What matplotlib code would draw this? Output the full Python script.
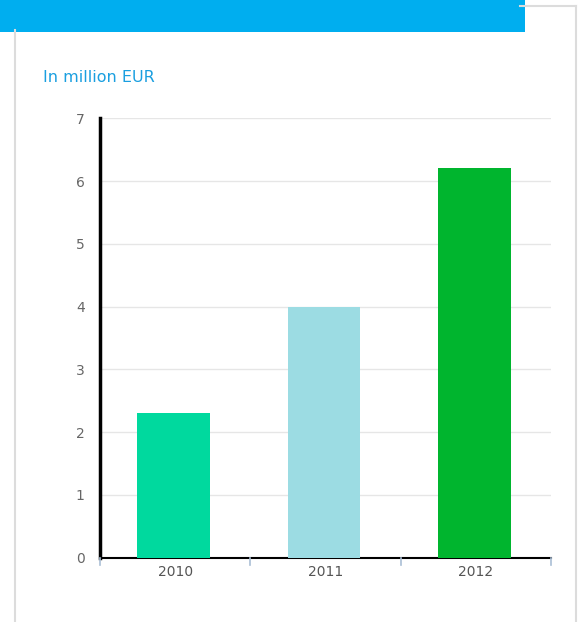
import matplotlib
matplotlib.use("Agg")
import matplotlib.pyplot as plt
from matplotlib.lines import Line2D
from matplotlib.patches import Rectangle

years = ["2010", "2011", "2012"]
values = [2.3, 4.0, 6.2]
bar_colors = ["#00D99E", "#9CDCE3", "#00B52E"]
y_ticks = [0, 1, 2, 3, 4, 5, 6, 7]
unit_label = "In million EUR"

W, H = 578, 622
fig = plt.figure(figsize=(W / 100, H / 100), dpi=100)
fig.patch.set_facecolor("white")

def fx(px):
    return px / W

def fy(py):
    return 1 - py / H

# Outer panel frame
frame_kw = dict(color="#dcdcdc", linewidth=1.5, transform=fig.transFigure)
fig.add_artist(Line2D([fx(14.5), fx(14.5)], [fy(30), fy(622)], **frame_kw))
fig.add_artist(Line2D([fx(576), fx(576)], [fy(6), fy(622)], **frame_kw))
fig.add_artist(Line2D([fx(520), fx(576)], [fy(6), fy(6)], **frame_kw))

# Header banner
fig.add_artist(Rectangle((0, fy(32)), fx(525), 32 / H, transform=fig.transFigure,
                         facecolor="#00AEEF", edgecolor="none"))

fig.text(fx(43), fy(77), unit_label, color="#1A9FE0", fontsize=11.5,
         ha="left", va="center", family="DejaVu Sans")

ax = fig.add_axes([fx(100), fy(557.5), fx(551) - fx(100), fy(118.3) - fy(557.5)])
x = list(range(len(years)))
ax.bar([i - 0.01 for i in x], values, width=0.485, color=bar_colors, zorder=3)

ax.set_xlim(-0.5, len(years) - 0.5)
ax.set_ylim(0, 7)
ax.set_yticks(y_ticks)
ax.set_yticklabels([str(t) for t in y_ticks])
ax.set_xticks(x)
ax.set_xticklabels(years)

ax.grid(axis="y", color="#e6e6e6", linewidth=1, zorder=0)
ax.set_axisbelow(True)

for side in ("top", "right"):
    ax.spines[side].set_visible(False)
ax.spines["left"].set_linewidth(2.5)
ax.spines["left"].set_color("black")
ax.spines["bottom"].set_linewidth(1.5)
ax.spines["bottom"].set_color("black")

ax.tick_params(axis="y", length=0, pad=11, labelsize=10, labelcolor="#666666")
ax.tick_params(axis="x", length=0, pad=5.5, labelsize=10, labelcolor="#555555")

# Category boundary ticks below the x axis
for b in [-0.5, 0.5, 1.5, 2.5]:
    ax.plot([b, b], [0, -0.12], color="#aabfd6", linewidth=1.2, clip_on=False, zorder=4)

fig.savefig("out.png", dpi=100, facecolor="white")
